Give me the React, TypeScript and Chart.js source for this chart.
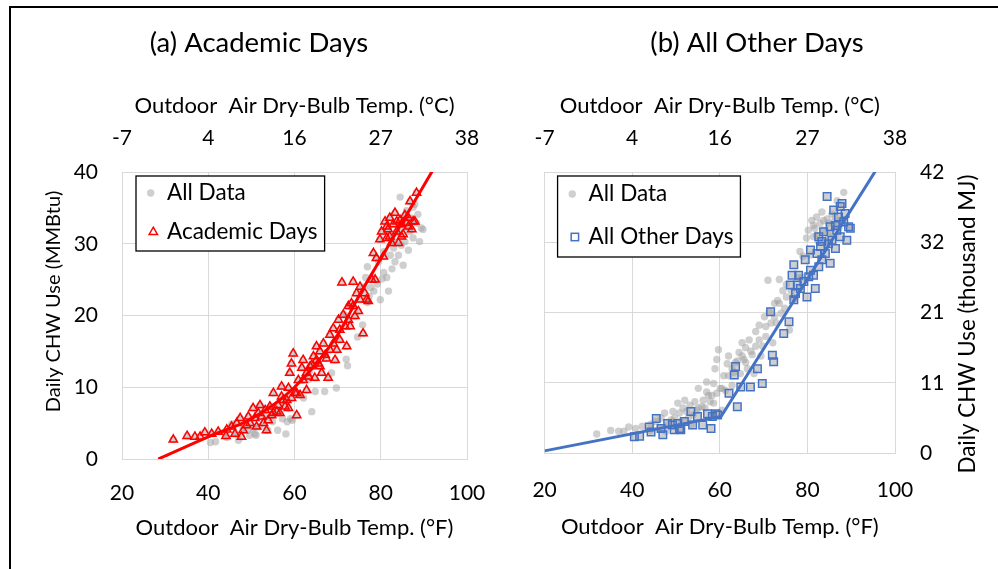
import { useEffect, useRef } from "react";
import { Chart, registerables } from "chart.js";

Chart.register(...registerables);

const FONT = "Lato, 'Open Sans', sans-serif";
const TITLE_FS = 27.5;
const AXIS_FS = 22;
const TICK_FS = 21;
const LEGEND_FS = 22.5;

// Academic days: outdoor air dry-bulb temp (°F) and daily CHW use (MMBtu)
const academicTemp = [
  31.9, 35.1, 36.9, 38.1, 39.2, 40.8, 42.3, 44.3, 44.1, 46.2, 47.4, 47.7, 48.9, 49.3, 50.4, 51.2,
  52.0, 52.8, 53.5, 53.9, 54.7, 55.1, 55.9, 56.2, 57.0, 57.0, 57.8, 58.2, 58.6, 58.9, 59.3, 59.7,
  60.1, 60.5, 60.9, 61.3, 61.7, 62.0, 62.8, 63.2, 63.6, 64.4, 64.7, 65.1, 65.5, 65.9, 66.3, 66.7,
  67.4, 67.8, 68.2, 69.0, 69.4, 69.8, 70.2, 70.5, 71.0, 71.3, 72.1, 72.5, 72.9, 73.2, 73.6, 74.0,
  74.4, 74.8, 75.2, 75.9, 76.3, 76.7, 77.1, 77.9, 78.3, 78.7, 79.0, 79.8, 80.2, 80.6, 81.0, 81.4,
  81.7, 82.1, 82.5, 82.9, 83.3, 83.7, 84.1, 84.5, 84.8, 85.2, 85.6, 86.0, 86.4, 86.8, 87.5, 87.9,
  88.3, 45.4, 46.6, 48.1, 49.7, 50.8, 51.6, 52.4, 53.2, 54.3, 55.1, 56.6, 57.4, 58.6, 59.3, 60.5,
  62.0, 62.8, 64.0, 65.1, 65.9, 67.1, 68.2, 69.0, 70.5, 71.7, 72.5, 73.6, 75.2, 82.1, 83.7, 84.8,
  87.2, 81.4, 86.4,
];
const academicChw = [
  2.7, 3.2, 3.1, 3.1, 3.7, 3.5, 3.8, 4.1, 3.2, 3.5, 5.7, 3.1, 4.7, 5.9, 7.1, 4.5,
  7.5, 5.0, 4.0, 5.4, 6.1, 9.2, 6.6, 7.5, 10.1, 8.7, 7.3, 8.2, 9.9, 12.0, 13.3, 14.7,
  9.2, 6.1, 11.0, 8.9, 12.7, 13.8, 9.6, 11.5, 12.9, 14.3, 11.3, 15.7, 13.3, 15.0, 12.0, 16.1,
  14.0, 11.3, 17.3, 18.2, 13.8, 15.2, 19.4, 16.6, 24.6, 20.1, 15.7, 21.3, 18.5, 21.7, 24.7, 19.9,
  23.1, 20.6, 24.0, 17.5, 23.1, 22.2, 22.0, 25.0, 28.7, 25.0, 28.0, 30.6, 31.7, 28.2, 33.1, 30.8,
  32.0, 33.6, 30.1, 32.7, 34.3, 31.7, 30.1, 33.3, 32.7, 31.3, 34.0, 32.9, 32.4, 35.9, 33.1, 33.1,
  37.1, 4.5, 5.0, 4.0, 5.0, 5.7, 6.4, 5.9, 6.8, 7.3, 6.4, 6.4, 8.2, 7.1, 8.5, 9.2,
  11.0, 12.0, 13.1, 13.8, 12.9, 14.5, 15.2, 16.1, 18.0, 18.5, 19.4, 21.3, 22.2, 31.0, 33.1, 31.0,
  32.0, 32.4, 33.6,
];

// All other days
const otherTemp = [
  40.5, 41.7, 43.9, 44.3, 45.5, 46.6, 47.0, 48.1, 49.2, 49.6, 50.4, 50.8, 51.1, 51.9, 53.4, 53.8,
  54.9, 56.1, 57.2, 58.0, 58.3, 59.1, 59.5, 62.1, 63.3, 63.6, 64.0, 64.8, 67.0, 68.6, 69.7, 71.6,
  72.0, 72.3, 74.6, 75.8, 76.1, 76.5, 76.9, 76.9, 77.3, 77.7, 78.0, 78.4, 79.2, 79.5, 79.9, 80.3,
  80.7, 81.4, 81.8, 82.2, 82.6, 83.0, 83.3, 83.7, 84.1, 84.5, 84.8, 85.2, 85.6, 86.0, 86.4, 86.7,
  87.1, 87.5, 87.9, 88.3, 88.6, 89.0, 89.4, 89.8, 80.7, 82.6, 85.2, 87.5, 86.4, 83.3,
];
const otherChw = [
  2.3, 2.4, 3.7, 3.0, 4.9, 3.5, 2.6, 4.2, 4.0, 3.3, 4.2, 3.5, 3.3, 4.5, 5.9, 4.0,
  5.2, 4.0, 5.6, 3.5, 5.2, 5.6, 5.4, 8.5, 11.1, 12.3, 6.6, 9.4, 9.4, 12.0, 9.9, 20.1,
  13.9, 13.0, 17.0, 18.7, 23.9, 25.3, 26.8, 21.8, 22.7, 23.9, 25.3, 23.4, 24.4, 27.5, 22.2, 25.1,
  26.0, 25.3, 23.4, 28.4, 26.5, 29.4, 27.5, 31.5, 28.4, 36.5, 29.8, 27.0, 30.3, 34.6, 32.4, 31.7,
  33.6, 30.8, 35.5, 32.9, 34.1, 30.3, 32.2, 32.0, 28.9, 30.8, 32.2, 35.1, 29.1, 30.1,
];

// fitted models
const academicFitTemp = [28.4, 40, 50, 60, 70, 75, 80, 93];
const academicFitChw = [0, 3.1, 5.6, 10.0, 17.3, 22.8, 27.9, 41.2];
const otherFitTemp = [20, 60.3, 95.8];
const otherFitChw = [0.3, 5.2, 40.4];

const fahrenheitTicks = [20, 40, 60, 80, 100];
const celsiusLabels = ["-7", "4", "16", "27", "38"];
const megajouleLabels = ["0", "11", "21", "32", "42"];

const allTemp = [...academicTemp, ...otherTemp];
const allChw = [...academicChw, ...otherChw];

const toPoints = (xs: number[], ys: number[]) => xs.map((x, i) => ({ x, y: ys[i] }));

const GRID = "#d9d9d9";
const GRAY = "rgba(160,160,160,0.5)";
const RED = "#ff0000";
const BLUE = "#4472c4";

function drawMarker(ctx: CanvasRenderingContext2D, kind: string, x: number, y: number) {
  ctx.save();
  if (kind === "dot") {
    ctx.fillStyle = GRAY;
    ctx.beginPath();
    ctx.arc(x, y, 3.7, 0, Math.PI * 2);
    ctx.fill();
  } else if (kind === "tri") {
    const r = 4.8;
    ctx.strokeStyle = RED;
    ctx.lineWidth = 1.5;
    ctx.beginPath();
    ctx.moveTo(x, y - r);
    ctx.lineTo(x + r * 0.866, y + r * 0.5);
    ctx.lineTo(x - r * 0.866, y + r * 0.5);
    ctx.closePath();
    ctx.stroke();
  } else {
    ctx.strokeStyle = BLUE;
    ctx.lineWidth = 1.5;
    ctx.strokeRect(x - 3.7, y - 3.7, 7.4, 7.4);
  }
  ctx.restore();
}

interface LegendSpec {
  dx: number;
  dy: number;
  h: number;
  textX: number;
  items: { kind: string; text: string; mx: number; y: number }[];
}

function makeLegend(spec: LegendSpec) {
  return {
    id: "boxLegend",
    afterDraw(chart: Chart) {
      const { ctx, chartArea } = chart;
      ctx.save();
      ctx.font = `${LEGEND_FS}px ${FONT}`;
      const x0 = chartArea.left + spec.dx;
      const y0 = chartArea.top + spec.dy;
      const tw = Math.max(...spec.items.map((it) => ctx.measureText(it.text).width));
      const w = spec.textX + tw + 7;
      ctx.fillStyle = "#fff";
      ctx.fillRect(x0, y0, w, spec.h);
      ctx.strokeStyle = "#000";
      ctx.lineWidth = 1.3;
      ctx.strokeRect(x0, y0, w, spec.h);
      spec.items.forEach((it) => {
        drawMarker(ctx, it.kind, x0 + it.mx, y0 + it.y);
        ctx.fillStyle = "#000";
        ctx.textAlign = "left";
        ctx.textBaseline = "middle";
        ctx.fillText(it.text, x0 + spec.textX, y0 + it.y);
      });
      ctx.restore();
    },
  };
}

// free-standing texts: the panel title and the rotated y-axis title
function makeTexts(title: string, yTitle: { text: string; size: number; x: number; y: number }) {
  return {
    id: "panelTexts",
    afterDraw(chart: Chart) {
      const { ctx } = chart;
      ctx.save();
      ctx.fillStyle = "#000";
      ctx.textAlign = "center";
      ctx.textBaseline = "middle";
      ctx.font = `${TITLE_FS}px ${FONT}`;
      ctx.fillText(title, W / 2, TITLE_CENTER);
      ctx.translate(yTitle.x, yTitle.y);
      ctx.rotate(-Math.PI / 2);
      ctx.font = `${yTitle.size}px ${FONT}`;
      ctx.fillText(yTitle.text, 0, 0);
      ctx.restore();
    },
  };
}

interface PanelSpec {
  title: string;
  markerData: { x: number; y: number }[];
  markerLabel: string;
  markerStyle: "triangle" | "rect";
  markerColor: string;
  markerRadius: number;
  fit: { x: number; y: number }[];
  smoothFit: boolean;
  area: { left: number; right: number; top: number; bottom: number };
  bottomTickY: number;
  bottomTitleY: number;
  yOnRight: boolean;
  yTickGap: number;
  legend: LegendSpec;
  yTitle: { text: string; size: number; x: number; y: number };
}

const W = 498;
const H = 569;
const TITLE_CENTER = 43;
const TOP_SPACE = 68;

function buildConfig(p: PanelSpec) {
  const topTitleY = 106;
  const topTickY = 138;

  const xTop = {
    type: "linear",
    position: "top",
    min: 20,
    max: 100,
    afterBuildTicks: (axis: any) => {
      axis.ticks = fahrenheitTicks.map((v) => ({ value: v }));
    },
    grid: { display: false, drawTicks: false },
    border: { display: false },
    ticks: {
      padding: p.area.top - topTickY - TICK_FS * 0.6,
      color: "#000",
      font: { family: FONT, size: TICK_FS },
      maxRotation: 0,
      callback: (_v: any, i: number) => celsiusLabels[i],
    },
    title: {
      display: true,
      text: "Outdoor  Air Dry-Bulb Temp. (°C)",
      color: "#000",
      font: { family: FONT, size: AXIS_FS },
      padding: { top: topTitleY - TOP_SPACE - AXIS_FS * 0.6, bottom: 0 },
    },
    afterFit: (axis: any) => {
      axis.height = p.area.top - TOP_SPACE;
    },
  };

  const bottomH = H - p.area.bottom;
  const xBottom = {
    type: "linear",
    position: "bottom",
    min: 20,
    max: 100,
    afterBuildTicks: (axis: any) => {
      axis.ticks = fahrenheitTicks.map((v) => ({ value: v }));
    },
    grid: { color: GRID, lineWidth: 1, drawTicks: false },
    border: { color: GRID },
    ticks: {
      padding: p.bottomTickY - p.area.bottom - TICK_FS * 0.6,
      color: "#000",
      font: { family: FONT, size: TICK_FS },
      maxRotation: 0,
    },
    title: {
      display: true,
      text: "Outdoor  Air Dry-Bulb Temp. (°F)",
      color: "#000",
      font: { family: FONT, size: AXIS_FS },
      padding: { top: 0, bottom: H - p.bottomTitleY - AXIS_FS * 0.6 },
    },
    afterFit: (axis: any) => {
      axis.height = bottomH;
    },
  };

  const yWidth = p.yOnRight ? W - p.area.right : p.area.left;
  const y = {
    type: "linear",
    position: p.yOnRight ? "right" : "left",
    min: 0,
    max: 40,
    ticks: {
      stepSize: 10,
      padding: p.yTickGap,
      color: "#000",
      font: { family: FONT, size: TICK_FS },
      callback: (v: any, i: number) => (p.yOnRight ? megajouleLabels[i] : String(v)),
    },
    grid: { color: GRID, lineWidth: 1, drawTicks: false },
    border: { color: GRID },
    afterFit: (axis: any) => {
      axis.width = yWidth;
    },
  };

  return {
    type: "scatter",
    data: {
      datasets: [
        {
          label: "fit",
          data: p.fit,
          showLine: true,
          pointRadius: 0,
          borderColor: p.markerColor,
          borderWidth: 3,
          cubicInterpolationMode: p.smoothFit ? "monotone" : "default",
          tension: 0,
          clip: 0,
        },
        {
          label: p.markerLabel,
          data: p.markerData,
          pointStyle: p.markerStyle,
          pointRadius: p.markerRadius,
          pointBorderWidth: 1.5,
          pointBorderColor: p.markerColor,
          pointBackgroundColor: "rgba(0,0,0,0)",
        },
        {
          label: "All Data",
          data: toPoints(allTemp, allChw),
          pointStyle: "circle",
          pointRadius: 3.7,
          pointBorderWidth: 0,
          pointBackgroundColor: GRAY,
        },
      ],
    },
    options: {
      animation: false,
      responsive: false,
      devicePixelRatio: 1,
      layout: {
        padding: {
          top: TOP_SPACE,
          bottom: 0,
          left: p.yOnRight ? p.area.left : 0,
          right: p.yOnRight ? 0 : W - p.area.right,
        },
      },
      plugins: {
        legend: { display: false },
        tooltip: { enabled: false },
        title: { display: false },
      },
      scales: { x: xBottom, x2: xTop, y },
    },
    plugins: [makeLegend(p.legend), makeTexts(p.title, p.yTitle)],
  };
}

const panelA: PanelSpec = {
  title: "(a) Academic Days",
  markerData: toPoints(academicTemp, academicChw),
  markerLabel: "Academic Days",
  markerStyle: "triangle",
  markerColor: RED,
  markerRadius: 4.8,
  fit: toPoints(academicFitTemp, academicFitChw),
  smoothFit: true,
  area: { left: 112, right: 457, top: 172, bottom: 459 },
  bottomTickY: 493,
  bottomTitleY: 528,
  yOnRight: false,
  yTickGap: 24,
  legend: {
    dx: 14,
    dy: 4,
    h: 75,
    textX: 31,
    items: [
      { kind: "dot", text: "All Data", mx: 14.7, y: 17 },
      { kind: "tri", text: "Academic Days", mx: 17.3, y: 56 },
    ],
  },
  yTitle: { text: "Daily CHW Use (MMBtu)", size: 20, x: 44, y: 301.5 },
};

const panelB: PanelSpec = {
  title: "(b) All Other Days",
  markerData: toPoints(otherTemp, otherChw),
  markerLabel: "All Other Days",
  markerStyle: "rect",
  markerColor: BLUE,
  markerRadius: 5.3,
  fit: toPoints(otherFitTemp, otherFitChw),
  smoothFit: false,
  area: { left: 35, right: 387, top: 172, bottom: 453 },
  bottomTickY: 490,
  bottomTitleY: 527,
  yOnRight: true,
  yTickGap: 25,
  legend: {
    dx: 13,
    dy: 4,
    h: 81,
    textX: 31,
    items: [
      { kind: "dot", text: "All Data", mx: 14.7, y: 18 },
      { kind: "sq", text: "All Other Days", mx: 17.3, y: 61 },
    ],
  },
  yTitle: { text: "Daily CHW Use (thousand MJ)", size: 22.4, x: 460, y: 324 },
};

function Panel({ spec, left }: { spec: PanelSpec; left: number }) {
  const ref = useRef<HTMLCanvasElement>(null);
  const chart = useRef<Chart | null>(null);

  useEffect(() => {
    if (!ref.current) return;
    if (chart.current) chart.current.destroy();
    chart.current = new Chart(ref.current, buildConfig(spec) as any);
    return () => {
      if (chart.current) {
        chart.current.destroy();
        chart.current = null;
      }
    };
  }, [spec]);

  return (
    <canvas
      ref={ref}
      width={W}
      height={H}
      style={{ position: "absolute", left, top: 0, width: W, height: H }}
    />
  );
}

export default function App() {
  return (
    <div
      style={{
        position: "absolute",
        left: 0,
        top: 0,
        width: 998,
        height: 569,
        overflow: "hidden",
        background: "#fff",
      }}
    >
      <div
        style={{
          position: "absolute",
          left: 9,
          top: 6,
          width: 1200,
          height: 800,
          borderLeft: "2px solid #000",
          borderTop: "2px solid #000",
        }}
      />
      <Panel spec={panelA} left={10} />
      <Panel spec={panelB} left={508} />
    </div>
  );
}
